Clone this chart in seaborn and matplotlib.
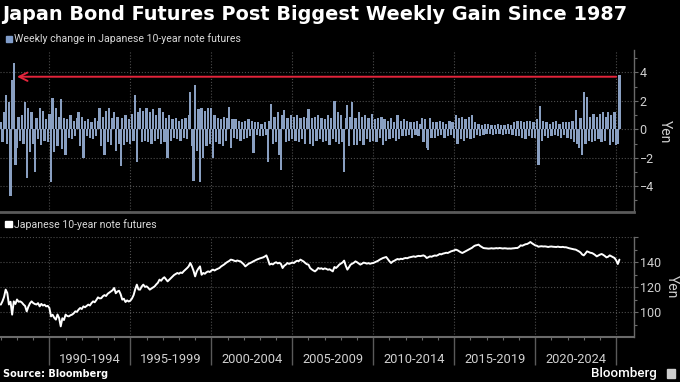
import numpy as np
import pandas as pd
import matplotlib
matplotlib.use("Agg")
import matplotlib.pyplot as plt
from matplotlib.patches import Rectangle
from matplotlib.ticker import FixedLocator
import seaborn as sns

weekly_change = [
    0.5, -0.9, 1.2, 2.4, -1.0, 1.9, -4.7, 3.5, 4.7, -2.5,      # 1987
    -1.3, 0.9, -0.8, 1.0, -1.0, 1.9, -3.4, 1.5, -1.6, 1.2,     # 1988
    -1.0, -3.0, 0.8, -0.7, 1.5, -1.1, 1.3, -0.8, 0.7, -0.9,    # 1989
    1.1, -3.7, 2.2, -1.6, 1.5, -1.2, 0.9, 2.1, -1.4, 0.8,      # 1990
    -1.8, 0.7, -0.6, 1.0, -0.7, 0.6, -0.5, 0.8, 1.2, -1.2,     # 1991
    0.9, -2.0, 0.6, -0.5, 0.7, -0.6, 0.5, -0.7, 0.8, -0.5,     # 1992
    0.6, 1.5, -1.2, 0.9, -1.8, 1.3, -0.9, 1.5, -1.1, 0.8,      # 1993
    1.2, -1.5, 0.9, -1.0, -2.6, 0.8, -1.1, 1.0, -0.9, 0.7,     # 1994
    -1.0, 1.1, -0.8, 2.4, -2.3, 1.2, 1.5, -0.9, 1.3, -0.8,     # 1995
    1.5, -0.9, 1.2, -1.0, 1.4, -0.8, 1.0, -0.7, 1.5, -1.0,     # 1996
    1.2, -0.9, 0.8, -2.0, 1.0, -0.8, 0.7, -0.6, 0.8, -0.7,     # 1997
    0.6, -0.8, 0.7, -0.6, 0.8, -0.7, 1.0, 2.65, -1.2, -3.6,    # 1998
    3.1, -1.5, 1.4, -3.7, 1.5, -2.0, 1.3, -1.2, 1.5, -1.0,     # 1999
    1.5, -2.0, 1.0, -0.9, 0.8, -1.0, 0.7, -1.2, 0.9, -0.8,     # 2000
    0.8, 1.6, -1.3, 0.7, -0.6, 0.7, -0.7, 0.6, -0.8, 0.5,      # 2001
    -0.7, 0.6, -0.6, 0.7, -0.5, 0.6, -1.7, 0.5, -0.4, 0.5,     # 2002
    -0.5, 0.4, -0.5, 0.5, -0.4, -2.3, 0.6, 1.8, -1.0, 0.9,     # 2003
    -0.9, 1.2, -1.8, -2.85, 1.0, 1.35, -0.9, 0.8, -0.8, 1.0,   # 2004
    -0.7, 0.9, -0.8, 1.0, -0.9, 0.8, -0.7, 0.9, -1.0, 0.8,     # 2005
    1.4, -1.0, 0.8, -1.2, 0.9, -0.8, 1.0, -0.7, 0.8, -0.9,     # 2006
    0.7, -0.8, 1.0, -1.1, 0.8, -0.7, 2.0, -0.9, 1.2, -1.0,     # 2007
    1.0, -0.9, -3.0, 0.8, 1.7, -1.2, 0.9, 1.95, -1.1, 0.8,     # 2008
    -1.1, 1.2, -0.8, 0.9, -1.1, 1.0, -0.7, 0.8, -0.9, 1.1,     # 2009
    -0.8, 0.7, -0.9, 0.8, -0.6, 0.9, -1.1, 0.7, -0.8, 0.6,     # 2010
    -0.7, 0.8, -0.6, 0.5, -0.8, 1.0, -0.7, 0.6, -0.5, 0.7,     # 2011
    -0.5, 0.6, -0.4, 0.5, -0.6, 0.5, -0.4, 0.6, -0.5, 0.4,     # 2012
    0.8, -0.9, 0.7, -1.3, -1.45, 0.8, -0.6, 0.5, -0.6, 0.5,    # 2013
    -0.5, 0.6, -0.4, 0.5, -0.6, 0.4, -0.5, 0.6, -0.4, 0.5,     # 2014
    -0.6, 1.0, -1.0, 0.8, -0.7, 0.9, -0.8, 0.7, -0.6, 0.9,     # 2015
    -0.7, 1.0, -0.6, 0.5, -0.4, 0.4, -0.5, 0.3, -0.4, 0.4,     # 2016
    -0.3, 0.4, -0.3, 0.3, -0.4, 0.3, -0.3, 0.4, -0.3, 0.3,     # 2017
    -0.4, 0.3, -0.3, 0.4, -0.3, 0.3, -0.4, 0.5, -0.5, 0.6,     # 2018
    -0.5, 0.6, -0.6, 0.5, -0.7, 0.6, -0.5, 0.6, -0.6, 0.5,     # 2019
    -0.6, 0.7, -2.5, 1.65, -0.8, 0.6, -0.5, 0.5, -0.6, 0.4,    # 2020
    -0.5, 0.5, -0.4, 0.6, -0.5, 0.4, -0.6, 0.5, -0.4, 0.5,     # 2021
    -0.6, 0.5, -0.7, 0.6, -0.9, 1.35, -1.0, -1.3, 0.8, -1.8,   # 2022
    2.65, -1.0, 2.3, -0.8, 0.9, -0.9, 1.1, -0.8, 0.9, -0.7,    # 2023
    1.1, -0.9, 1.2, -0.8, 0.9, 1.25, -1.1, 1.0, -0.9, 1.2,     # 2024
    -1.1, -1.0, 3.85,                                          # 2025
]

# Japanese 10-year note futures price (yen), same dates
futures_price = [
    105.9, 108.5, 112.0, 117.9, 115.2, 106.0, 108.2, 97.9, 108.5, 106.4,
    110.0, 108.2, 108.5, 107.6, 106.0, 104.8, 100.5, 104.2, 106.9, 108.5,
    107.2, 106.4, 106.0, 107.1, 104.5, 106.5, 105.2, 105.8, 104.5, 104.9,
    103.2, 96.5, 97.8, 95.4, 93.9, 98.0, 95.2, 88.5, 95.0, 93.6,
    97.9, 96.8, 96.5, 97.4, 97.9, 98.9, 100.5, 100.1, 101.9, 103.2,
    102.4, 104.5, 103.8, 104.9, 105.9, 105.2, 107.1, 108.5, 107.8, 109.6,
    111.7, 110.9, 111.0, 112.6, 113.5, 112.8, 114.6, 115.5, 116.5, 117.4,
    119.2, 115.0, 116.4, 117.0, 114.2, 109.9, 110.6, 108.0, 109.3, 108.4,
    109.1, 110.8, 113.5, 118.2, 121.9, 118.0, 117.9, 120.4, 121.9, 120.1,
    120.5, 119.4, 117.9, 118.8, 119.6, 120.5, 122.1, 123.4, 125.9, 125.0,
    126.8, 127.8, 126.1, 124.5, 125.8, 127.0, 128.4, 129.6, 130.4, 131.2,
    130.6, 131.6, 131.2, 132.7, 133.9, 135.1, 136.5, 139.2, 136.5, 133.0,
    128.5, 132.5, 134.8, 136.5, 129.8, 131.2, 130.6, 131.8, 132.5, 132.0,
    133.1, 133.9, 133.2, 134.0, 134.6, 135.2, 136.4, 137.2, 138.1, 139.2,
    140.1, 140.8, 141.9, 141.6, 141.1, 140.6, 141.2, 140.8, 140.5, 139.4,
    138.2, 136.5, 137.5, 138.6, 139.2, 139.8, 140.6, 141.2, 141.9, 142.4,
    142.9, 143.3, 143.7, 144.4, 145.3, 142.0, 137.9, 138.6, 138.1, 139.2,
    139.8, 138.9, 139.4, 138.4, 135.2, 137.0, 137.9, 139.2, 138.5, 139.0,
    139.6, 139.2, 140.3, 141.0, 140.7, 141.9, 141.2, 140.4, 139.2, 138.2,
    137.9, 135.2, 134.1, 133.2, 132.5, 133.6, 135.2, 134.6, 135.0, 134.2,
    134.9, 134.5, 133.8, 134.2, 133.4, 132.5, 136.0, 135.2, 136.4, 137.9,
    138.8, 139.6, 141.1, 137.0, 133.9, 135.8, 137.9, 138.6, 139.4, 140.5,
    139.8, 138.8, 137.9, 138.6, 139.5, 139.2, 138.7, 139.1, 138.6, 139.0,
    139.2, 139.8, 140.4, 141.0, 141.9, 142.6, 143.2, 143.6, 144.0, 142.3,
    140.6, 139.2, 140.4, 141.0, 141.8, 142.4, 142.0, 142.6, 142.3, 142.9,
    143.2, 143.0, 143.6, 143.9, 144.2, 144.5, 144.1, 144.6, 144.9, 144.7,
    145.0, 145.3, 144.6, 143.2, 143.8, 144.5, 144.2, 144.8, 145.2, 145.0,
    145.6, 146.4, 146.1, 146.7, 147.0, 147.4, 147.2, 147.9, 148.5, 148.9,
    149.3, 149.9, 149.4, 148.6, 147.8, 147.2, 147.9, 148.6, 149.2, 149.9,
    150.6, 151.4, 152.5, 153.2, 153.5, 153.9, 152.8, 152.0, 151.2, 151.0,
    150.9, 150.7, 150.8, 151.0, 150.8, 150.9, 151.1, 150.9, 151.2, 151.0,
    150.8, 151.0, 150.9, 150.7, 150.8, 150.7, 150.9, 151.0, 151.2, 151.2,
    152.0, 153.3, 153.0, 153.6, 154.2, 154.4, 155.1, 156.0, 155.0, 154.2,
    153.3, 153.0, 152.2, 152.5, 152.6, 152.4, 152.5, 152.3, 152.0, 152.3,
    152.4, 152.2, 152.1, 152.0, 152.3, 152.0, 151.9, 152.1, 151.8, 151.8,
    151.4, 151.0, 150.7, 150.4, 150.1, 149.9, 149.2, 148.5, 147.6, 146.0,
    145.3, 146.8, 148.5, 148.0, 147.4, 147.2, 146.5, 145.6, 144.5, 145.2,
    145.9, 146.4, 145.7, 144.8, 143.7, 144.2, 145.3, 144.6, 144.0, 143.2,
    141.3, 138.4, 141.9,
]

period_labels = ["1990-1994", "1995-1999", "2000-2004", "2005-2009",
                 "2010-2014", "2015-2019", "2020-2024"]
period_starts = [1990, 1995, 2000, 2005, 2010, 2015, 2020, 2025]

dates = np.round(1987.0 + 0.1 * np.arange(len(weekly_change)), 1)
df = pd.DataFrame({"date": dates, "change": weekly_change, "price": futures_price})

BAR_COLOR = "#809dca"
RED = "#e3243b"
GRID = "#4d4d4d"
SPINE = "#6a6a6a"
TICK_TXT = "#d0d0d0"
ARROW_Y = 3.7

sns.set_theme(style="dark", rc={"axes.facecolor": "black", "figure.facecolor": "black"})
plt.rcParams["font.family"] = ["Roboto", "DejaVu Sans"]

W, H = 680, 382
fig = plt.figure(figsize=(6.8, 3.82), dpi=100)
ax1 = fig.add_axes([0, 1 - 212.5 / H, 634 / W, (212.5 - 50) / H])
ax2 = fig.add_axes([0, 1 - 337 / H, 634 / W, (337 - 237) / H])

# --- top panel: weekly changes
sns.barplot(data=df, x="date", y="change", native_scale=True, color=BAR_COLOR,
            width=1.4, linewidth=0, edgecolor="none", errorbar=None, ax=ax1)
ax1.annotate("", xy=(1988.0, ARROW_Y), xytext=(2025.0, ARROW_Y),
             arrowprops=dict(arrowstyle="->, head_length=0.6, head_width=0.3",
                             color=RED, lw=1.4, mutation_scale=10,
                             shrinkA=0, shrinkB=0))
ax1.set_ylim(-5.85, 5.58)
ax1.set_yticks([-4, -2, 0, 2, 4])
ax1.yaxis.set_minor_locator(FixedLocator([-5, -3, -1, 1, 3, 5]))

# --- bottom panel: futures price
sns.lineplot(data=df, x="date", y="price", color="white", lw=1.4, ax=ax2)
ax2.set_ylim(80, 160)
ax2.set_yticks([100, 120, 140, 160])
ax2.set_yticklabels(["100", "120", "140", ""])
ax2.yaxis.set_minor_locator(FixedLocator([90, 110, 130, 150]))
ax2.xaxis.set_minor_locator(FixedLocator(list(range(1987, 2026))))

for ax in (ax1, ax2):
    ax.set_facecolor("black")
    ax.set_xlim(1986.95, 2026.1)
    ax.set_xticks(period_starts)
    ax.set_xticklabels([])
    ax.set_xlabel("")
    ax.yaxis.tick_right()
    ax.yaxis.set_label_position("right")
    ax.set_ylabel("Yen", rotation=270, color=TICK_TXT, fontsize=10, labelpad=13)
    ax.grid(True, which="major", color=GRID, ls=":", lw=0.8)
    ax.set_axisbelow(True)
    for side in ("left", "top"):
        ax.spines[side].set_visible(False)
    ax.spines["right"].set_color(SPINE)
    ax.spines["right"].set_linewidth(1.0)
    ax.tick_params(axis="y", which="major", colors=SPINE, labelcolor=TICK_TXT,
                   labelsize=9, length=3, width=0.8, pad=1, right=True, left=False)
    ax.tick_params(axis="y", which="minor", colors=SPINE, length=2.5, width=0.8,
                   right=True, left=False)

ax1.spines["bottom"].set_color("#5a5a5a")
ax1.spines["bottom"].set_linewidth(2.0)
ax1.tick_params(axis="x", which="both", length=0, bottom=False)

ax2.spines["bottom"].set_color(SPINE)
ax2.spines["bottom"].set_linewidth(1.5)
ax2.tick_params(axis="x", which="major", colors="#5a5a5a", length=20, width=1.0,
                bottom=True, direction="out")
ax2.tick_params(axis="x", which="minor", colors=SPINE, length=2.2, width=0.8,
                bottom=True, direction="out")

trans = ax2.get_xaxis_transform()
for start, label in zip(period_starts, period_labels):
    ax2.text(start + 2.5, -0.26, label, transform=trans, ha="center",
             va="baseline", color=TICK_TXT, fontsize=9.3)

# --- texts
fig.text(2 / W, 1 - 20.5 / H, "Japan Bond Futures Post Biggest Weekly Gain Since 1987",
         color="white", fontsize=13.9, fontweight="bold", va="baseline",
         family="DejaVu Sans")
fig.patches.append(Rectangle((5.5 / W, 1 - 42 / H), 6.3 / W, 6.5 / H,
                             transform=fig.transFigure, color=BAR_COLOR))
fig.text(13.5 / W, 1 - 42.5 / H, "Weekly change in Japanese 10-year note futures",
         color="#d8d8d8", fontsize=7.6, va="baseline")
fig.patches.append(Rectangle((5 / W, 1 - 227.3 / H), 6.6 / W, 6.6 / H,
                             transform=fig.transFigure, color="white"))
fig.text(14 / W, 1 - 227.5 / H, "Japanese 10-year note futures",
         color="#d8d8d8", fontsize=7.6, va="baseline")
fig.text(3 / W, 1 - 377 / H, "Source: Bloomberg", color="white",
         fontsize=7.0, fontweight="bold", va="baseline", family="DejaVu Sans")
fig.text(657 / W, 1 - 377 / H, "Bloomberg", color="white", fontsize=9.6,
         fontweight="medium", va="baseline", ha="right")
fig.patches.append(Rectangle((666.5 / W, 1 - 378 / H), 8.5 / W, 9 / H,
                             transform=fig.transFigure, color="#cfcfcf"))

fig.savefig("out.png", dpi=100, facecolor="black")
